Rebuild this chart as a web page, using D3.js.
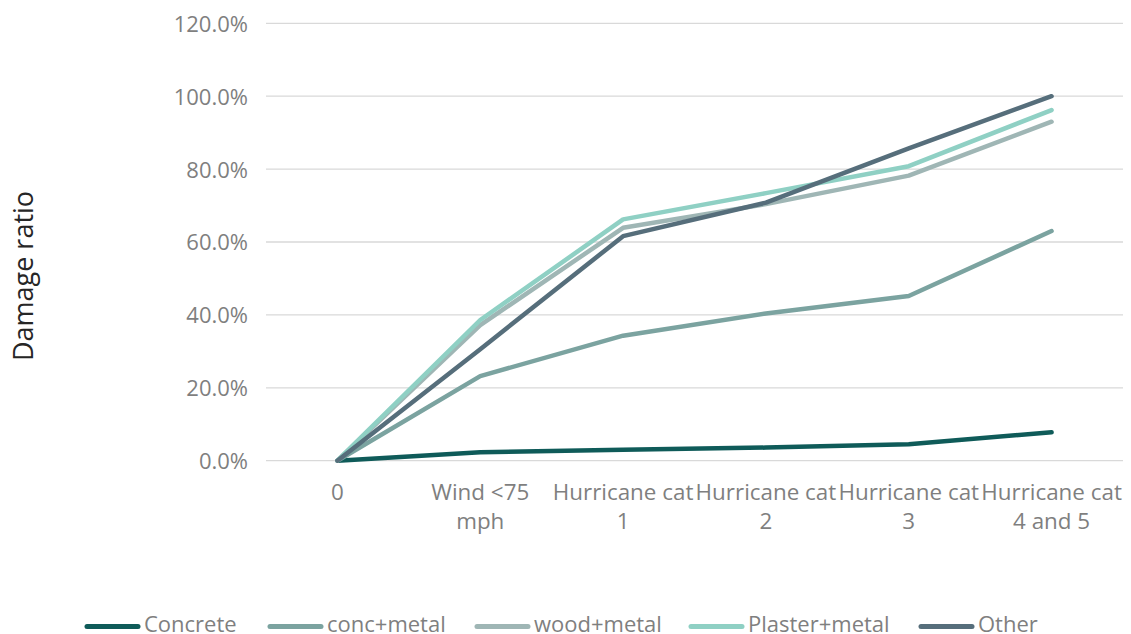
<!DOCTYPE html>
<html>
<head>
<meta charset="utf-8">
<script src="https://cdn.jsdelivr.net/npm/d3@7"></script>
<style>
  html, body { margin: 0; padding: 0; background: #fff; }
  svg { display: block; }
  text { font-family: "Open Sans", "Noto Sans", sans-serif; }
</style>
</head>
<body>
<svg id="chart" width="1131" height="634"></svg>
<script>
// Wind intensity categories (x axis), each label split into its display lines
const categories = ["0", "Wind <75 mph", "Hurricane cat 1", "Hurricane cat 2", "Hurricane cat 3", "Hurricane cat 4 and 5"];
const categoryLines = [["0"], ["Wind <75", "mph"], ["Hurricane cat", "1"], ["Hurricane cat", "2"], ["Hurricane cat", "3"], ["Hurricane cat", "4 and 5"]];

// Damage ratio per construction type
const concrete     = [0, 0.023, 0.030, 0.036, 0.045, 0.078];
const concMetal    = [0, 0.232, 0.343, 0.404, 0.452, 0.630];
const woodMetal    = [0, 0.372, 0.639, 0.704, 0.782, 0.930];
const plasterMetal = [0, 0.386, 0.662, 0.734, 0.808, 0.962];
const other        = [0, 0.306, 0.616, 0.708, 0.857, 1.000];

const seriesNames  = ["Concrete", "conc+metal", "wood+metal", "Plaster+metal", "Other"];
const seriesColors = ["#0f5b59", "#7ba3a0", "#9fb6b5", "#8fd0c4", "#566e7b"];
const yTicks = [0, 0.2, 0.4, 0.6, 0.8, 1.0, 1.2];

const series = [concrete, concMetal, woodMetal, plasterMetal, other].map((v, i) => ({
  name: seriesNames[i], color: seriesColors[i], values: v
}));

const svg = d3.select("#chart");

const x = d3.scalePoint().domain(categories).range([266, 1123]).padding(0.5);
const y = d3.scaleLinear().domain([0, 1.2]).range([460.7, 23.3]);

// Horizontal gridlines
svg.append("g").selectAll("line").data(yTicks).join("line")
  .attr("x1", 266).attr("x2", 1123)
  .attr("y1", d => y(d)).attr("y2", d => y(d))
  .attr("stroke", "#d9d9d9").attr("stroke-width", 1.3);

// Y axis labels
const yAxis = d3.axisLeft(y).tickValues(yTicks).tickFormat(d3.format(".1%")).tickSize(0).tickPadding(0);
const gy = svg.append("g").attr("transform", "translate(248,0)").call(yAxis);
gy.select(".domain").remove();
gy.selectAll("text")
  .attr("font-family", "'Open Sans', sans-serif")
  .attr("font-size", 22).attr("fill", "#7f7f7f").attr("dy", "0.36em");

// Y axis title
svg.append("text")
  .attr("transform", "translate(33,276) rotate(-90)")
  .attr("text-anchor", "middle")
  .attr("font-size", 27).attr("fill", "#262626")
  .text("Damage ratio");

// X axis labels (wrapped in two lines)
const gx = svg.append("g");
categories.forEach((c, i) => {
  const t = gx.append("text")
    .attr("x", x(c)).attr("y", 500)
    .attr("text-anchor", "middle")
    .attr("font-size", 22.4).attr("fill", "#7f7f7f");
  categoryLines[i].forEach((ln, j) => {
    t.append("tspan").attr("x", x(c)).attr("dy", j === 0 ? 0 : 29).text(ln);
  });
});

// Series lines
const line = d3.line().x((d, i) => x(categories[i])).y(d => y(d));
svg.append("g").selectAll("path").data(series).join("path")
  .attr("d", d => line(d.values))
  .attr("fill", "none")
  .attr("stroke", d => d.color)
  .attr("stroke-width", 4.5)
  .attr("stroke-linecap", "round")
  .attr("stroke-linejoin", "round");

// Legend
const legend = svg.append("g");
const legendX = [87, 270, 477, 691, 921];
series.forEach((s, i) => {
  const g = legend.append("g").attr("transform", `translate(${legendX[i]},626.5)`);
  g.append("line").attr("x1", 0).attr("x2", 51).attr("y1", 0).attr("y2", 0)
    .attr("stroke", s.color).attr("stroke-width", 5).attr("stroke-linecap", "round");
  g.append("text").attr("x", 57).attr("y", 5)
    .attr("font-size", 22).attr("fill", "#7f7f7f").text(s.name);
});
</script>
</body>
</html>
